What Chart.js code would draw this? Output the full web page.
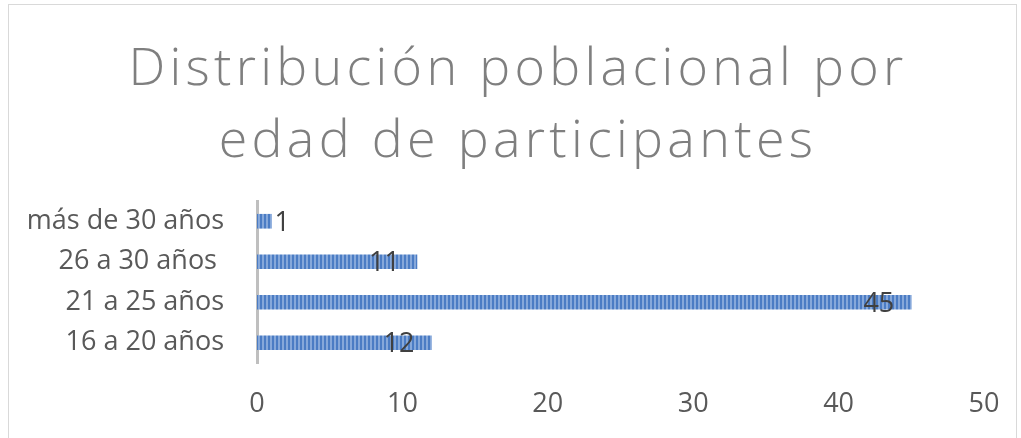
<!DOCTYPE html>
<html>
<head>
<meta charset="utf-8">
<script src="https://cdn.jsdelivr.net/npm/chart.js@4"></script>
<style>
  html, body { margin: 0; padding: 0; background: #ffffff; }
  #wrap { position: relative; width: 1021px; height: 438px; overflow: hidden; background: #ffffff; }
  #frame { position: absolute; left: 8px; top: 4px; width: 1009px; height: 440px; border: 1px solid #d9d9d9; box-sizing: border-box; }
  canvas { position: absolute; left: 0; top: 0; }
</style>
</head>
<body>
<div id="wrap">
  <div id="frame"></div>
  <canvas id="c" width="1021" height="438"></canvas>
</div>
<script>
const titleLines = ["Distribución poblacional por", "edad de participantes"];
const categories = ["16 a 20 años", "21 a 25 años", "26 a 30 años ", "más de 30 años"];
const values = [12, 45, 11, 1];
const xMin = 0;
const xMax = 50;
const xStep = 10;

const FONT = "'Open Sans', 'Noto Sans', sans-serif";

function stripePattern() {
  const p = document.createElement('canvas');
  p.width = 4; p.height = 4;
  const g = p.getContext('2d');
  g.fillStyle = '#4b7cc4';
  g.fillRect(0, 0, 2, 4);
  g.fillStyle = '#86a8da';
  g.fillRect(2, 0, 2, 4);
  return g.createPattern(p, 'repeat');
}

const titleSpacing = {
  id: 'titleSpacing',
  beforeDraw(chart) { chart.ctx.letterSpacing = '4.3px'; },
  beforeDatasetsDraw(chart) { chart.ctx.letterSpacing = '0px'; }
};

const valueLabels = {
  id: 'valueLabels',
  afterDatasetsDraw(chart) {
    const ctx = chart.ctx;
    const meta = chart.getDatasetMeta(0);
    ctx.save();
    ctx.letterSpacing = '0px';
    ctx.font = "27px " + FONT;
    ctx.fillStyle = '#404040';
    ctx.textBaseline = 'middle';
    meta.data.forEach((bar, i) => {
      const txt = String(chart.data.datasets[0].data[i]);
      const w = ctx.measureText(txt).width;
      const len = bar.x - bar.base;
      if (len > w + 22) {
        ctx.textAlign = 'right';
        ctx.fillText(txt, bar.x - 17, bar.y + 2);
      } else {
        ctx.textAlign = 'left';
        ctx.fillText(txt, bar.x + 3, bar.y + 2);
      }
    });
    ctx.restore();
  }
};

new Chart(document.getElementById('c'), {
  type: 'bar',
  data: {
    labels: categories,
    datasets: [{
      data: values,
      backgroundColor: stripePattern(),
      borderWidth: 0,
      barThickness: 14
    }]
  },
  options: {
    indexAxis: 'y',
    responsive: false,
    animation: false,
    devicePixelRatio: 1,
    layout: { padding: { left: 15, right: 0, top: 0, bottom: 0 } },
    plugins: {
      legend: { display: false },
      tooltip: { enabled: false },
      title: {
        display: true,
        text: titleLines,
        color: '#7f7f7f',
        font: { family: FONT, size: 52, weight: '300', lineHeight: 72 / 52 },
        padding: { top: 34, bottom: 23 },
        align: 'center'
      }
    },
    scales: {
      x: {
        min: xMin,
        max: xMax,
        ticks: { stepSize: xStep, color: '#595959', font: { family: FONT, size: 27 }, padding: 25, z: 1 },
        grid: { display: false, drawTicks: false },
        border: { display: false },
        afterFit(s) { s.height = 75; s.paddingLeft = 0; s.paddingRight = 0; }
      },
      y: {
        reverse: true,
        ticks: { color: '#595959', font: { family: FONT, size: 27 }, padding: 33, z: 1 },
        grid: { display: false, drawTicks: false },
        border: { display: true, color: '#bfbfbf', width: 3 },
        afterFit(s) { s.width = 242; }
      },
      yRight: {
        type: 'linear',
        position: 'right',
        display: true,
        ticks: { display: false },
        grid: { display: false, drawTicks: false },
        border: { display: false },
        afterFit(s) { s.width = 37; }
      }
    }
  },
  plugins: [titleSpacing, valueLabels]
});
</script>
</body>
</html>
